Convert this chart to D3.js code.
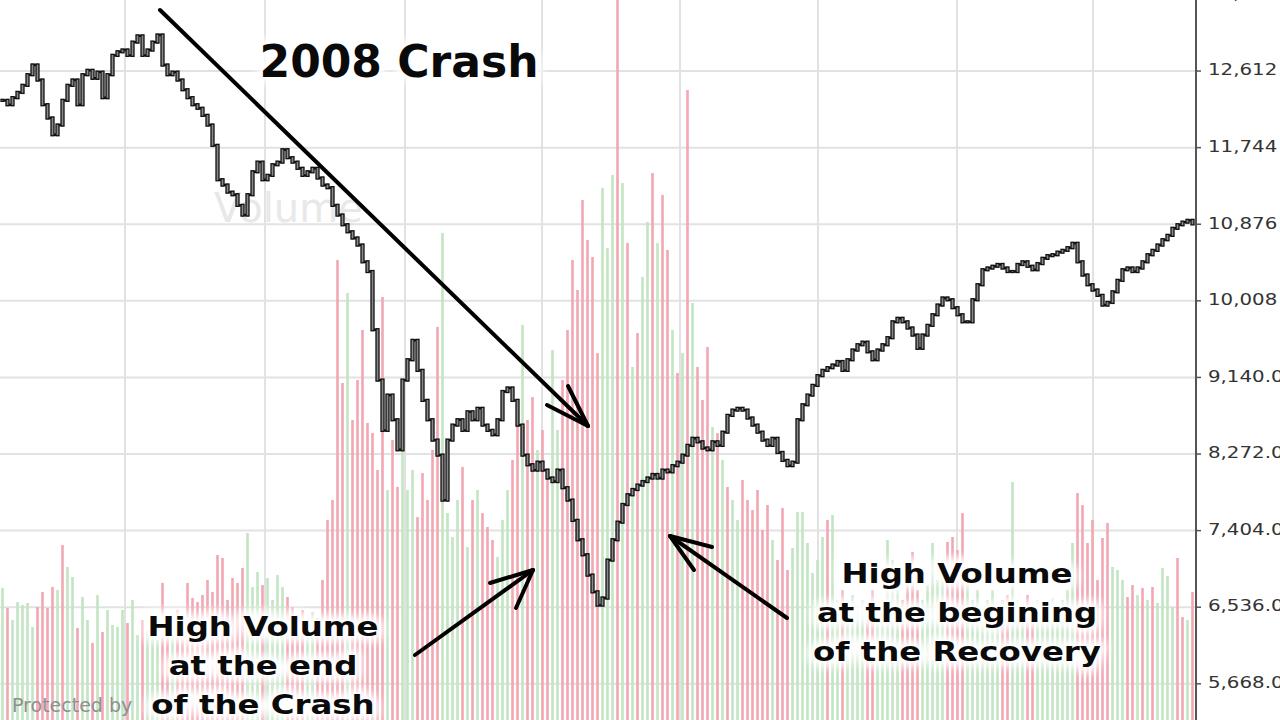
<!DOCTYPE html>
<html>
<head>
<meta charset="utf-8">
<script src="https://cdn.jsdelivr.net/npm/d3@7"></script>
<style>
  html, body { margin: 0; padding: 0; background: #fff; overflow: hidden; }
  svg { display: block; }
</style>
</head>
<body>
<svg id="chart" width="1280" height="720"></svg>
<script>
// ---------------- DATA ----------------
// Closing value of the index, one bar every period
const closes = [
  12280,12230,12310,12370,12450,12570,12680,12510,12230,12080,
  11890,12000,12280,12450,12510,12230,12570,12620,12530,12600,
  12310,12570,12790,12830,12850,12790,12940,13010,12790,12850,
  12940,13020,12680,12570,12600,12510,12400,12310,12230,12190,
  12110,12000,11770,11380,11320,11240,11210,11090,10980,11210,
  11470,11580,11380,11430,11550,11580,11720,11630,11580,11510,
  11430,11470,11510,11400,11320,11290,11090,10980,10870,10790,
  10720,10640,10450,10340,9680,9110,8540,8940,8660,8320,
  9110,9340,9560,9220,8880,8660,8430,8260,7750,8430,
  8600,8660,8540,8750,8660,8790,8600,8540,8490,8660,
  8980,9020,8880,8600,8260,8150,8090,8180,8090,8000,
  7960,8090,7890,7750,7520,7300,7130,6900,6710,6560,
  6640,7070,7300,7500,7700,7810,7870,7920,7960,8000,
  8040,8000,8090,8070,8140,8180,8260,8370,8450,8410,
  8340,8320,8410,8370,8520,8710,8770,8790,8770,8680,
  8600,8520,8430,8370,8450,8290,8200,8140,8180,8660,
  8830,8940,9050,9160,9220,9250,9280,9320,9220,9340,
  9450,9510,9540,9430,9340,9450,9510,9590,9770,9810,
  9770,9700,9620,9470,9620,9730,9850,9960,10040,10020,
  9930,9850,9770,9770,10020,10190,10360,10380,10400,10420,
  10380,10340,10340,10420,10450,10400,10360,10430,10490,10520,
  10530,10560,10580,10610,10660,10450,10300,10190,10130,10070,
  9960,9990,10110,10240,10360,10380,10340,10380,10450,10530,
  10580,10640,10700,10750,10830,10870,10900,10920,10880
];
// Traded volume per bar (relative units)
const volumes = [
  132,112,100,118,115,117,93,113,128,112,
  133,130,175,153,143,92,123,100,77,125,
  88,110,95,93,110,97,120,85,100,90,
  95,80,137,105,95,110,90,137,122,118,
  125,140,128,165,162,120,142,137,152,187,
  133,148,135,142,120,145,133,123,113,105,
  110,100,108,102,140,200,220,460,337,427,
  300,340,390,297,287,250,423,230,280,233,
  287,230,250,203,247,220,270,393,487,207,
  183,220,253,173,220,230,207,193,180,163,
  200,230,260,320,395,300,323,270,290,250,
  370,290,340,390,460,430,520,480,463,367,
  532,472,545,720,537,477,353,387,443,498,
  547,477,525,470,390,347,367,630,417,353,
  320,373,293,287,260,233,220,200,240,220,
  210,230,190,215,180,160,212,150,172,208,
  208,177,147,160,183,200,205,120,130,110,
  125,115,120,105,130,110,120,180,160,130,
  120,145,168,130,120,135,177,140,160,178,
  183,170,207,140,120,130,110,120,130,105,
  120,125,238,120,110,125,105,120,100,115,
  122,110,120,130,177,227,215,177,200,140,
  182,197,153,150,140,123,135,125,132,120,
  133,117,152,144,113,162,103,100,128
];
const redBars = [12,67,76,87,114,116,117,118,123,125,127,130,132,135,137,139,141,145,156,157,165,182,190,191,192,215,216,218,220,221,225,228,230,235,236,238];
const greenBars = [49,69,88,104,110,120,122,124,129,131,134,136,138,202,214];
// Price axis ticks and their labels
const tickValues = [5668, 6536, 7404, 8272, 9140, 10008, 10876, 11744, 12612, 13480];
const tickLabels = ["5,668.0","6,536.0","7,404.0","8,272.0","9,140.0","10,008","10,876","11,744","12,612","13,480"];
// Bar positions of the vertical (date) grid lines
const timeGrid = [25, 53, 81, 108.4, 136, 163.6, 191.4, 218.6];
// Annotation texts
const title = "2008 Crash";
const noteLeft = ["High Volume", "at the end", "of the Crash"];
const noteRight = ["High Volume", "at the begining", "of the Recovery"];

// ---------------- CHART ----------------
const W = 1280, H = 720;
const plotRight = 1195;
const svg = d3.select("#chart");

const x = d3.scaleLinear().domain([0, closes.length]).range([0, plotRight]);
const y = d3.scaleLinear().domain([5258, 13417]).range([H, 0]);
const yv = d3.scaleLinear().domain([0, 720]).range([H, 0]);

const defs = svg.append("defs");
const halo = defs.append("filter").attr("id", "halo")
  .attr("x", "-20%").attr("y", "-40%").attr("width", "140%").attr("height", "180%");
halo.append("feGaussianBlur").attr("stdDeviation", 4);

const clip = defs.append("clipPath").attr("id", "plotclip");
clip.append("rect").attr("x", 0).attr("y", 0).attr("width", plotRight).attr("height", H);

// grid
const grid = svg.append("g");
grid.selectAll("line.h").data(tickValues).join("line")
  .attr("x1", 0).attr("x2", plotRight)
  .attr("y1", d => y(d)).attr("y2", d => y(d))
  .attr("stroke", "#e2e2e2").attr("stroke-width", 2);
grid.selectAll("line.v").data(timeGrid).join("line")
  .attr("x1", d => x(d)).attr("x2", d => x(d))
  .attr("y1", 0).attr("y2", H)
  .attr("stroke", "#e2e2e2").attr("stroke-width", 2);

// watermark
svg.append("text").attr("x", 214).attr("y", 222)
  .attr("font-family", "DejaVu Sans, Verdana, sans-serif").attr("font-size", 40)
  .attr("fill", "#e8e8e8").text("Volume");

// volume bars
const redSet = new Set(redBars), greenSet = new Set(greenBars);
const isRed = i => redSet.has(i) ? true : greenSet.has(i) ? false : (i > 0 && closes[i] < closes[i - 1]);
const plot = svg.append("g").attr("clip-path", "url(#plotclip)");
plot.append("g").selectAll("rect").data(volumes).join("rect")
  .attr("x", (d, i) => x(i) + 1.2)
  .attr("width", 2.6)
  .attr("y", d => yv(d))
  .attr("height", d => H - yv(d))
  .attr("fill", (d, i) => isRed(i) ? "#f2a7b2" : "#c3e5c3");

// price: step line + bodies
const pts = closes.map((c, i) => [x(i) + 2.5, y(c)]);
const line = d3.line().curve(d3.curveStepAfter);
plot.append("path").attr("d", line(pts))
  .attr("fill", "none").attr("stroke", "#111").attr("stroke-width", 2.4);
plot.append("g").selectAll("rect").data(closes).join("rect")
  .attr("x", (d, i) => x(i) + 1)
  .attr("width", 3)
  .attr("y", (d, i) => y(Math.max(d, i > 0 ? closes[i - 1] : d)) - 1)
  .attr("height", (d, i) => Math.abs(y(d) - y(i > 0 ? closes[i - 1] : d)) + 2)
  .attr("fill", "#8a8a8a").attr("stroke", "#111").attr("stroke-width", 1.3);

// right axis
const axisG = svg.append("g");
axisG.append("line").attr("x1", plotRight + 1).attr("x2", plotRight + 1)
  .attr("y1", 0).attr("y2", H).attr("stroke", "#555").attr("stroke-width", 2);
axisG.selectAll("line.t").data(tickValues).join("line")
  .attr("x1", plotRight + 1).attr("x2", plotRight + 6)
  .attr("y1", d => y(d)).attr("y2", d => y(d))
  .attr("stroke", "#555").attr("stroke-width", 1.5);
axisG.selectAll("text").data(tickValues).join("text")
  .attr("transform", d => `translate(${plotRight + 13},${y(d)}) scale(1.32,1)`)
  .attr("dominant-baseline", "middle")
  .attr("font-family", "DejaVu Sans, Verdana, sans-serif").attr("font-size", 15)
  .attr("fill", "#333")
  .text((d, i) => tickLabels[i]);

// arrows
const arrows = [
  [[160, 10], [588, 426], [[547, 405], [568, 386]]],
  [[415, 655], [533, 570], [[490, 583], [516, 608]]],
  [[787, 618], [670, 536], [[712, 547], [694, 570]]]
];
const ag = svg.append("g").attr("stroke", "#000").attr("stroke-width", 4)
  .attr("stroke-linecap", "round").attr("fill", "none");
arrows.forEach(a => {
  ag.append("line").attr("x1", a[0][0]).attr("y1", a[0][1]).attr("x2", a[1][0]).attr("y2", a[1][1]);
  a[2].forEach(p => ag.append("line").attr("x1", p[0]).attr("y1", p[1]).attr("x2", a[1][0]).attr("y2", a[1][1]));
});

// annotation texts with white glow
function label(lines, cx, y0, lh, size, sx) {
  const g = svg.append("g").attr("transform", `translate(${cx},0) scale(${sx},1)`)
    .attr("font-family", "DejaVu Sans, Verdana, sans-serif")
    .attr("font-weight", "bold").attr("font-size", size).attr("text-anchor", "middle");
  g.selectAll("text.h").data(lines).join("text")
    .attr("x", 0).attr("y", (d, i) => y0 + i * lh)
    .attr("fill", "#fff").attr("stroke", "#fff").attr("stroke-width", 12)
    .attr("stroke-linejoin", "round").attr("filter", "url(#halo)").text(d => d);
  g.selectAll("text.t").data(lines).join("text")
    .attr("x", 0).attr("y", (d, i) => y0 + i * lh)
    .attr("fill", "#0a0a0a").text(d => d);
}
label([title], 399, 77, 0, 44, 1);
label(noteLeft, 263, 636, 39, 27, 1.2);
label(noteRight, 957, 583, 39, 27, 1.2);

svg.append("text").attr("x", 12).attr("y", 712)
  .attr("font-family", "DejaVu Sans, Verdana, sans-serif").attr("font-size", 19)
  .attr("fill", "#8f8f8f").text("Protected by");
</script>
</body>
</html>
